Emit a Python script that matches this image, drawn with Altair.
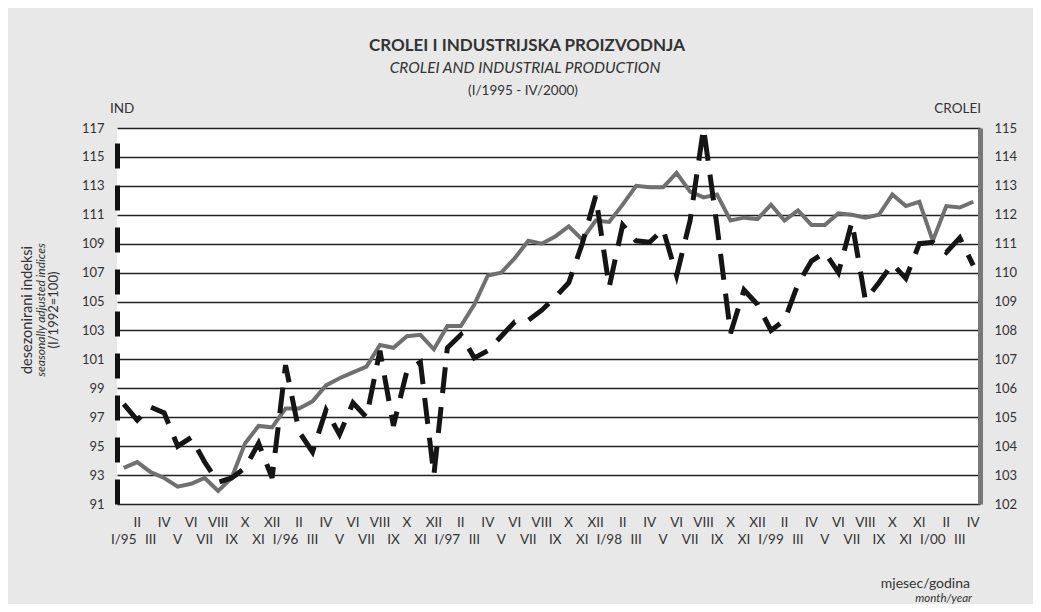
import altair as alt
import pandas as pd

# month index 0 = I/1995 ... 63 = IV/2000
x_labels = [
    "I/95", "II", "III", "IV", "V", "VI", "VII", "VIII", "IX", "X", "XI", "XII",
    "I/96", "II", "III", "IV", "V", "VI", "VII", "VIII", "IX", "X", "XI", "XII",
    "I/97", "II", "III", "IV", "V", "VI", "VII", "VIII", "IX", "X", "XI", "XII",
    "I/98", "II", "III", "IV", "V", "VI", "VII", "VIII", "IX", "X", "XI", "XII",
    "I/99", "II", "III", "IV", "V", "VI", "VII", "VIII", "IX", "X", "XI", "XI",
    "I/00", "II", "III", "IV",
]

ind = [
    93.5, 93.9, 93.2, 92.8, 92.2, 92.4, 92.8, 91.9, 92.8, 95.2, 96.4, 96.3,
    97.6, 97.6, 98.1, 99.2, 99.7, 100.1, 100.5, 102.0, 101.8, 102.6, 102.7, 101.7,
    103.3, 103.3, 104.8, 106.8, 107.0, 108.0, 109.2, 109.0, 109.5, 110.2, 109.3, 110.6,
    110.5, 111.7, 113.0, 112.9, 112.9, 113.9, 112.6, 112.2, 112.4, 110.6, 110.8, 110.7,
    111.7, 110.6, 111.3, 110.3, 110.3, 111.1, 111.0, 110.8, 111.0, 112.4, 111.6, 111.9,
    109.2, 111.6, 111.5, 111.9,
]

crolei = [
    105.45, 104.9, 105.35, 105.15, 104.0, 104.3, 103.45, 102.75, 102.9, 103.25, 104.1, 102.9,
    106.8, 104.5, 103.8, 105.25, 104.4, 105.5, 105.0, 107.3, 104.7, 106.6, 106.9, 103.0,
    107.4, 107.85, 107.05, 107.3, 107.8, 108.3, 108.35, 108.7, 109.15, 109.65, 111.0, 112.65,
    109.5, 111.65, 111.1, 111.05, 111.5, 109.9, 111.8, 115.0, 111.6, 107.9, 109.4, 108.9,
    108.0, 108.35, 109.6, 110.4, 110.7, 110.0, 111.75, 109.05, 109.65, 110.3, 109.8, 111.0,
    111.05, 110.7, 111.2, 110.25,
]

ind_ticks = list(range(91, 118, 2))
crolei_ticks = list(range(102, 116))

df = pd.DataFrame({
    "t": list(range(len(ind))),
    "ind": ind,
    "crolei": crolei,
    "lab": x_labels,
})

FONT = "Lato"
TXT = "#333333"

xscale = alt.Scale(domain=[-0.5, 63.5], nice=False, zero=False)
base = alt.Chart(df)

x_main = alt.X("t:Q", scale=xscale,
               axis=alt.Axis(labels=False, ticks=False, grid=False, title=None,
                             domainColor="#555555", domainWidth=2))

ind_line = base.mark_line(color="#707070", strokeWidth=4).encode(
    x=x_main,
    y=alt.Y("ind:Q",
            scale=alt.Scale(domain=[91, 117], nice=False, zero=False),
            axis=alt.Axis(orient="left", values=ind_ticks, title=None,
                          grid=True, gridColor="#222222", gridWidth=1.3,
                          domainColor="#111111", domainWidth=5, domainDash=[25, 17],
                          ticks=False, labelPadding=13, labelFontSize=13,
                          labelColor=TXT, labelFont=FONT)),
)

crolei_line = base.mark_line(color="#151515", strokeWidth=5, strokeDash=[26, 14]).encode(
    x=x_main,
    y=alt.Y("crolei:Q",
            scale=alt.Scale(domain=[102, 115], nice=False, zero=False),
            axis=alt.Axis(orient="right", values=crolei_ticks, title=None,
                          grid=False, domainColor="#777777", domainWidth=5,
                          ticks=False, labelPadding=14, labelFontSize=13,
                          labelColor=TXT, labelFont=FONT)),
)

x_text = alt.X("t:Q", scale=xscale, axis=None)
upper = base.transform_filter("datum.t % 2 == 1").mark_text(
    font=FONT, fontSize=13.5, color=TXT, baseline="middle", align="center"
).encode(x=x_text, y=alt.value(395), text="lab:N")
lower = base.transform_filter("datum.t % 2 == 0").mark_text(
    font=FONT, fontSize=13.5, color=TXT, baseline="middle", align="center"
).encode(x=x_text, y=alt.value(412), text="lab:N")


def note(text, x, y, size, align="center", weight="normal", style="normal", angle=0):
    return alt.Chart(pd.DataFrame({"s": [text]})).mark_text(
        font=FONT, fontSize=size, color=TXT, align=align, baseline="middle",
        fontWeight=weight, fontStyle=style, angle=angle
    ).encode(x=alt.value(x), y=alt.value(y), text="s:N")


notes = [
    note("CROLEI I INDUSTRIJSKA PROIZVODNJA", 410, -82, 17, weight="bold"),
    note("CROLEI AND INDUSTRIAL PRODUCTION", 408, -60, 15.5, style="italic"),
    note("(I/1995 - IV/2000)", 406, -37, 13.5),
    note("IND", -7, -19, 13.5, align="left"),
    note("CROLEI", 864, -19, 13.5, align="right"),
    note("desezonirani indeksi", -89, 182, 14.5, angle=270),
    note("seasonally adjusted indices", -76, 182, 12, style="italic", angle=270),
    note("(I/1992=100)", -63, 182, 13, angle=270),
    note("mjesec/godina", 853, 456, 14, align="right"),
    note("month/year", 855, 471, 11.5, align="right", style="italic"),
]

lines = alt.layer(ind_line, crolei_line).resolve_scale(y="independent")

chart = alt.layer(lines, upper, lower, *notes).properties(
    width=863, height=376,
    autosize=alt.AutoSizeParams(type="none"),
    padding={"left": 109, "top": 120, "right": 53, "bottom": 100},
    background="#e8e8e8",
).configure_view(stroke=None, fill="white")

chart.save("out.html", embed_options={"renderer": "svg", "actions": False})
